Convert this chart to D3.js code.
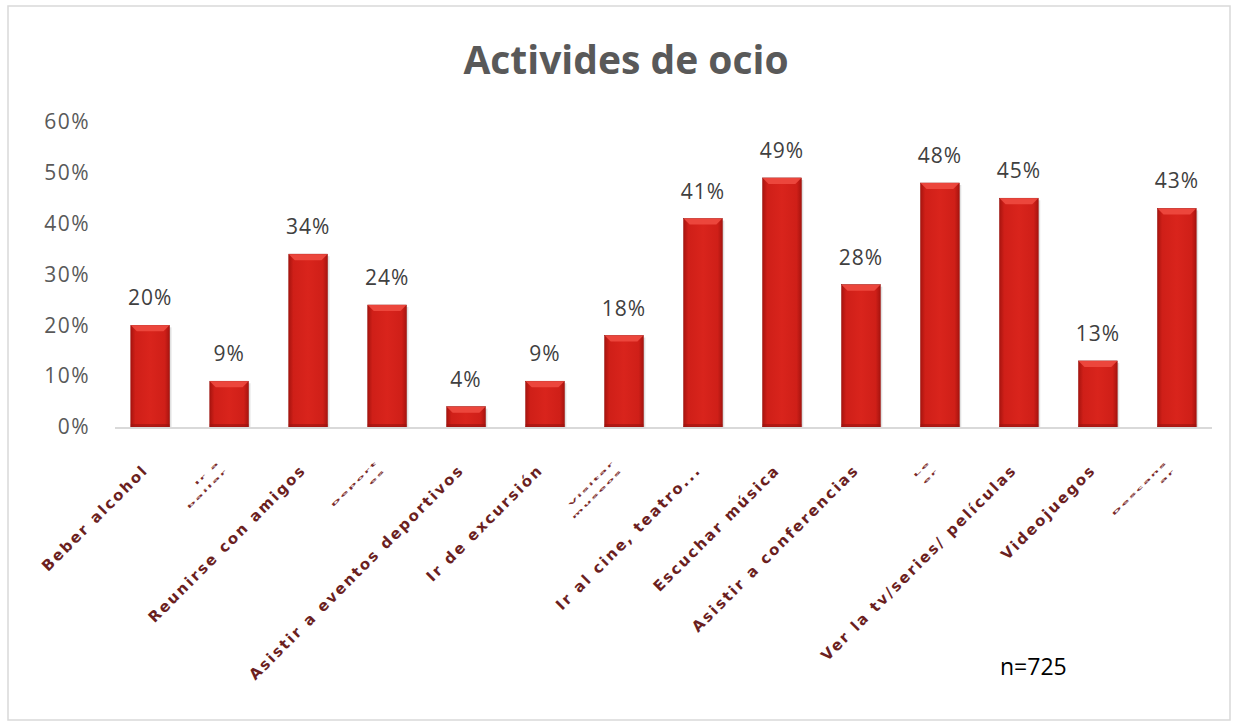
<!DOCTYPE html>
<html>
<head>
<meta charset="utf-8">
<script src="https://cdn.jsdelivr.net/npm/d3@7"></script>
<style>
  body { margin: 0; background: #fff; }
</style>
</head>
<body>
<div id="chart"></div>
<script>
// categories (garbled ones in the source are drawn squeezed)
var categories = ["Beber alcohol", "Ir a bailar", "Reunirse con amigos", "Deportes",
  "Asistir a eventos deportivos", "Ir de excursión", "Visitar museos", "Ir al cine, teatro...",
  "Escuchar música", "Asistir a conferencias", "Leer", "Ver la tv/series/ películas",
  "Videojuegos", "Descansar"];
var squeezed = [false, true, false, true, false, false, true, false, false, false, true, false, false, true];
var values = [20, 9, 34, 24, 4, 9, 18, 41, 49, 28, 48, 45, 13, 43];
var yTicks = [0, 10, 20, 30, 40, 50, 60];

var W = 1235, H = 723;
var margin = { top: 122, left: 115, right: 23, bottom: 296 };

var svg = d3.select("#chart").append("svg")
  .attr("width", W).attr("height", H)
  .style("font-family", "'Open Sans', 'Noto Sans', sans-serif");

// outer frame
svg.append("rect")
  .attr("x", 8).attr("y", 6).attr("width", 1222).attr("height", 714)
  .attr("fill", "#fff").attr("stroke", "#d9d9d9").attr("stroke-width", 1.5);

var defs = svg.append("defs");
var grad = defs.append("linearGradient").attr("id", "barGrad")
  .attr("x1", "0%").attr("x2", "100%").attr("y1", "0%").attr("y2", "0%");
grad.append("stop").attr("offset", "0%").attr("stop-color", "#a8140f");
grad.append("stop").attr("offset", "12%").attr("stop-color", "#cf1f18");
grad.append("stop").attr("offset", "50%").attr("stop-color", "#d9241c");
grad.append("stop").attr("offset", "88%").attr("stop-color", "#cf1f18");
grad.append("stop").attr("offset", "100%").attr("stop-color", "#a8140f");

var x = d3.scaleBand()
  .domain(categories)
  .range([margin.left, W - margin.right])
  .paddingInner(0.51).paddingOuter(0.2);

var y = d3.scaleLinear()
  .domain([0, 60])
  .range([H - margin.bottom, margin.top]);

// title
svg.append("text")
  .attr("x", 626).attr("y", 74)
  .attr("text-anchor", "middle")
  .attr("font-size", 39).attr("font-weight", "bold")
  .attr("fill", "#595959")
  .text("Activides de ocio");

// y axis
var yAxis = svg.append("g")
  .attr("transform", "translate(" + margin.left + ",0)")
  .call(d3.axisLeft(y).tickValues(yTicks).tickSize(0).tickPadding(25)
    .tickFormat(function (d) { return d + "%"; }));
yAxis.select(".domain").remove();
yAxis.selectAll("text").attr("font-size", 21).attr("fill", "#595959")
  .attr("letter-spacing", 1.5)
  .attr("font-family", "'Open Sans', sans-serif");

// bars
var bars = svg.append("g").selectAll("g.bar")
  .data(values)
  .enter().append("g").attr("class", "bar");

bars.append("rect")
  .attr("x", function (d, i) { return x(categories[i]) + 2; })
  .attr("y", function (d) { return y(d) + 2; })
  .attr("width", x.bandwidth())
  .attr("height", function (d) { return y(0) - y(d); })
  .attr("fill", "#000").attr("opacity", 0.12);

bars.append("rect")
  .attr("x", function (d, i) { return x(categories[i]); })
  .attr("y", function (d) { return y(d); })
  .attr("width", x.bandwidth())
  .attr("height", function (d) { return y(0) - y(d); })
  .attr("fill", "url(#barGrad)")
  .attr("stroke", "#9b1410").attr("stroke-width", 0.6);

// top bevel
bars.append("path")
  .attr("d", function (d, i) {
    var x0 = x(categories[i]), x1 = x0 + x.bandwidth(), t = y(d), b = 6;
    return "M" + x0 + "," + t + "L" + x1 + "," + t + "L" + (x1 - b) + "," + (t + b) +
      "L" + (x0 + b) + "," + (t + b) + "Z";
  })
  .attr("fill", "#ee4a40").attr("opacity", 0.9);

// bottom bevel
bars.append("rect")
  .attr("x", function (d, i) { return x(categories[i]); })
  .attr("y", y(0) - 3)
  .attr("width", x.bandwidth()).attr("height", 3)
  .attr("fill", "#9b1410").attr("opacity", 0.6);

// value labels
bars.append("text")
  .attr("x", function (d, i) { return x(categories[i]) + x.bandwidth() / 2; })
  .attr("y", function (d) { return y(d) - 20; })
  .attr("text-anchor", "middle")
  .attr("font-size", 21).attr("fill", "#404040")
  .attr("letter-spacing", 1)
  .text(function (d) { return d + "%"; });

// x axis line
svg.append("line")
  .attr("x1", margin.left).attr("x2", W - margin.right)
  .attr("y1", y(0) + 1).attr("y2", y(0) + 1)
  .attr("stroke", "#d9d9d9").attr("stroke-width", 2);

// category labels
var labels = svg.append("g").selectAll("g.lab")
  .data(categories)
  .enter().append("g")
  .attr("transform", function (d) {
    return "translate(" + (x(d) + x.bandwidth() / 2 - 1) + "," + (y(0) + 44) + ") rotate(-45)";
  });

labels.each(function (d, i) {
  var g = d3.select(this);
  if (!squeezed[i]) {
    g.append("text")
      .attr("text-anchor", "end")
      .attr("font-family", "'DejaVu Sans', Verdana, sans-serif")
      .attr("font-weight", "bold").attr("font-size", 15)
      .attr("letter-spacing", 2.1)
      .attr("fill", "#6b1f1f")
      .text(d);
  } else {
    var words = d.split(" ");
    var half = Math.ceil(words.length / 2);
    var lines = words.length > 1 ? [words.slice(0, half).join(" "), words.slice(half).join(" ")] : [d.slice(0, -2), d.slice(-2)];
    var t = g.append("text")
      .attr("text-anchor", "end")
      .attr("transform", "translate(0,-12) scale(0.9,0.28)")
      .attr("font-family", "'DejaVu Sans', Verdana, sans-serif")
      .attr("font-weight", "bold").attr("font-size", 15)
      .attr("letter-spacing", 2)
      .attr("fill", "#7a2a2a");
    lines.forEach(function (l, k) {
      t.append("tspan").attr("x", 0).attr("dy", k === 0 ? 0 : 40).text(l);
    });
  }
});

// sample size
svg.append("text")
  .attr("x", 1000).attr("y", 675)
  .attr("font-family", "'Open Sans', sans-serif")
  .attr("font-size", 23).attr("fill", "#000")
  .text("n=725");
</script>
</body>
</html>
